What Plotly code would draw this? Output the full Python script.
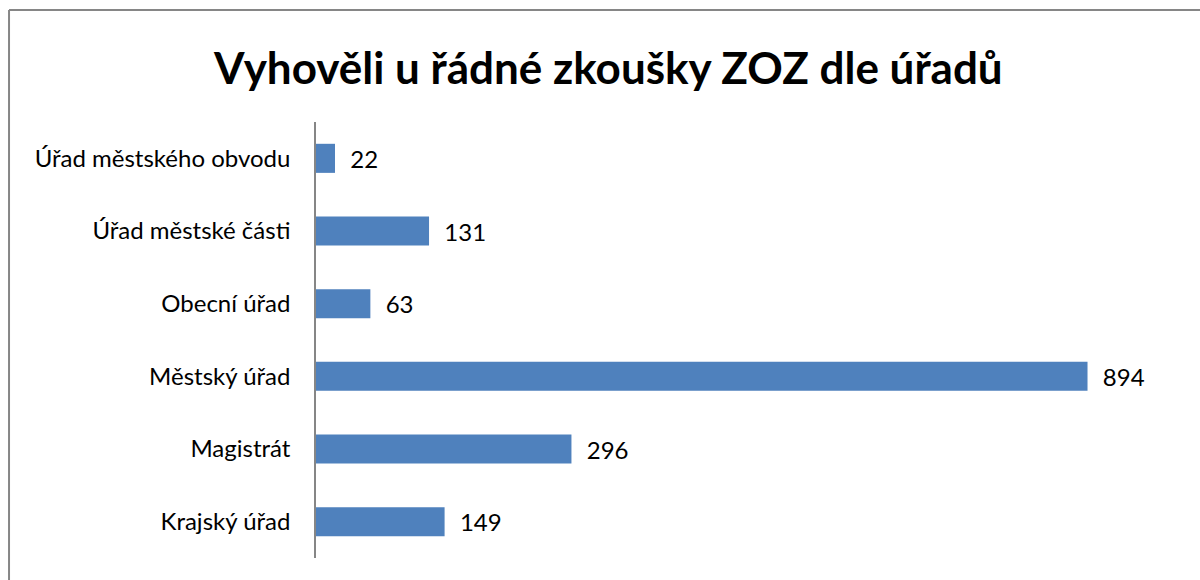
import plotly.graph_objects as go

# categories listed top to bottom as in the chart
urady = ['Úřad městského obvodu', 'Úřad městské části', 'Obecní úřad',
         'Městský úřad', 'Magistrát', 'Krajský úřad']
vyhoveli = [22, 131, 63, 894, 296, 149]

font_name = 'Lato, Carlito, Calibri, sans-serif'

fig = go.Figure()
fig.add_trace(go.Bar(
    x=vyhoveli, y=urady, orientation='h',
    marker=dict(color='#4F81BD', line=dict(width=0)),
    text=vyhoveli, texttemplate='  %{x}', textposition='outside',
    textfont=dict(size=24, color='black', family=font_name),
    cliponaxis=False,
))

# chart border (left and top edges are visible, the rest runs off the picture)
border = dict(type='line', xref='paper', yref='paper', line=dict(color='#868686', width=2))
shapes = [
    dict(border, x0=-0.3557, x1=-0.3557, y0=-0.2, y1=1.2569),
    dict(border, x0=-0.3557, x1=1.2, y0=1.2569, y1=1.2569),
]

fig.update_layout(
    width=1200, height=580,
    margin=dict(l=316, r=21, t=122, b=22),
    paper_bgcolor='white', plot_bgcolor='white',
    title=dict(text='<b>Vyhověli u řádné zkoušky ZOZ dle úřadů</b>',
               x=0.507, xanchor='center', y=0.882, yanchor='middle',
               font=dict(size=44, color='black', family=font_name)),
    bargap=0.6,
    showlegend=False,
    shapes=shapes,
    xaxis=dict(range=[0, 1000], visible=False),
    yaxis=dict(autorange='reversed', showline=True, linecolor='#868686', linewidth=1.5,
               ticks='', ticklabelstandoff=19,
               tickfont=dict(size=24, color='black', family=font_name)),
)

# drop the default page margin so the 1200x580 figure fills the window
fig.write_html("out.html", config={'displayModeBar': False},
               post_script="document.body.style.margin='0';document.body.style.overflow='hidden';")
